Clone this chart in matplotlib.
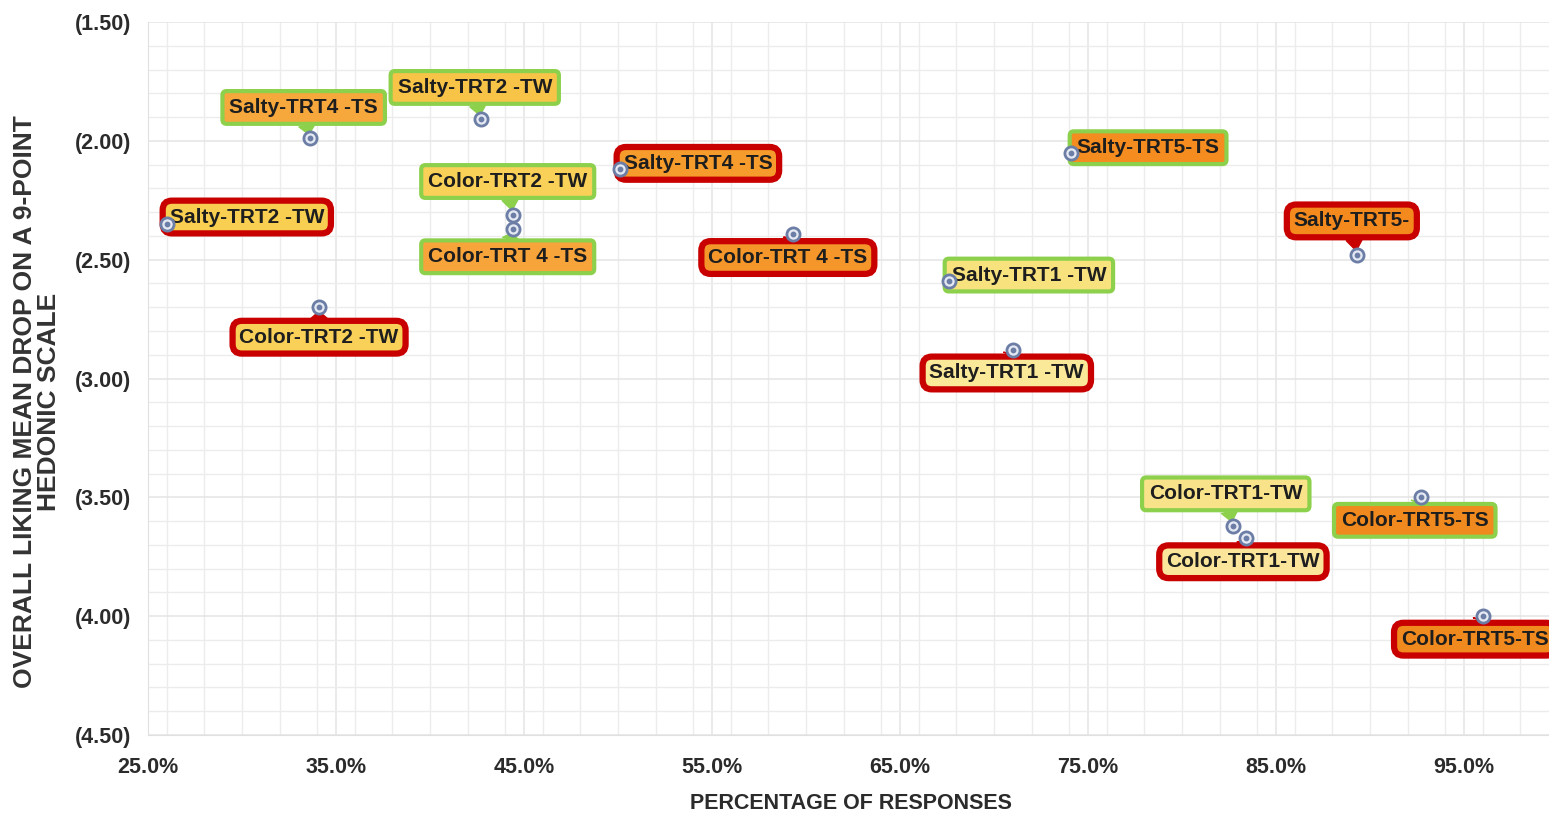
import numpy as np
import matplotlib
matplotlib.use("Agg")
import matplotlib.pyplot as plt
from matplotlib.ticker import FuncFormatter, MultipleLocator

# green-framed series
green_labels = ["Salty-TRT4 -TS", "Salty-TRT2 -TW", "Color-TRT2 -TW", "Color-TRT 4 -TS",
                "Salty-TRT5-TS", "Salty-TRT1 -TW", "Color-TRT1-TW", "Color-TRT5-TS"]
green_x = [33.6, 42.7, 44.4, 44.4, 74.1, 67.6, 82.7, 92.7]
green_y = [-1.99, -1.91, -2.31, -2.37, -2.05, -2.59, -3.62, -3.50]

# red-framed series
red_labels = ["Salty-TRT2 -TW", "Salty-TRT4 -TS", "Color-TRT 4 -TS", "Color-TRT2 -TW",
              "Salty-TRT5-", "Salty-TRT1 -TW", "Color-TRT1-TW", "Color-TRT5-TS"]
red_x = [26.0, 50.1, 59.3, 34.1, 89.3, 71.0, 83.4, 96.0]
red_y = [-2.35, -2.12, -2.39, -2.70, -2.48, -2.88, -3.67, -4.00]

# label box placement (pixel offsets from the point) and fills
green_off = [(-6, -31), (-6, -32), (-5, -33), (-5, 28), (77, -5), (80, -6), (-7, -32), (-6, 23)]
red_off = [(80, -7), (78, -6), (-5, 24), (0, 30), (-5, -34), (-6, 23), (-3, 24), (-8, 23)]
green_fill = ["#f6a83c", "#f8c448", "#f9d158", "#f7a43a", "#f48c20", "#f8e27e", "#f9e38a", "#f08a1e"]
red_fill = ["#f8cf50", "#f59c2c", "#f4962a", "#f9d158", "#f48a1e", "#fbe99a", "#fae59a", "#f08a1e"]

FONT = ["Liberation Sans", "DejaVu Sans"]
plt.rcParams["font.family"] = FONT
W, H = 1549, 821

fig = plt.figure(figsize=(W / 100, H / 100), dpi=100)
ax = fig.add_axes([148 / W, 1 - 735 / H, (1558 - 148) / W, (735 - 22) / H])

ax.set_xlim(25, 100)
ax.set_ylim(-4.5, -1.5)
ax.xaxis.set_minor_locator(MultipleLocator(2))
ax.yaxis.set_major_locator(MultipleLocator(0.5))
ax.yaxis.set_minor_locator(MultipleLocator(0.1))
ax.set_xticks(np.arange(25, 100, 10))
ax.xaxis.set_major_formatter(FuncFormatter(lambda v, p: f"{v:.1f}%"))
ax.yaxis.set_major_formatter(FuncFormatter(lambda v, p: f"({abs(v):.2f})"))

ax.grid(which="major", color="#e4e4e4", lw=1.1)
ax.grid(which="minor", color="#ececec", lw=1.0)
ax.set_axisbelow(True)
for s in ax.spines.values():
    s.set_visible(False)
ax.spines["left"].set_visible(True)
ax.spines["left"].set_color("#e0e0e0")
ax.spines["bottom"].set_visible(True)
ax.spines["bottom"].set_color("#e0e0e0")
ax.tick_params(which="both", length=0)
ax.tick_params(axis="x", pad=16, labelsize=15.5, colors="#2b2b2b")
ax.tick_params(axis="y", pad=12, labelsize=15.5, colors="#2b2b2b")
for t in ax.get_xticklabels() + ax.get_yticklabels():
    t.set_fontweight("bold")


def draw_series(xs, ys, labels, offs, fills, edge, lw, rad):
    for x, y, lab, (dx, dy), fc in zip(xs, ys, labels, offs, fills):
        ax.annotate(lab, (x, y), xytext=(dx * 0.72, -dy * 0.72), textcoords="offset points",
                    ha="center", va="center", fontsize=15, fontweight="bold",
                    color="#1e1e1e", zorder=4,
                    bbox=dict(boxstyle=f"round,pad=0.33,rounding_size={rad}", fc=fc, ec=edge, lw=lw),
                    arrowprops=dict(arrowstyle="wedge,tail_width=0.8,shrink_factor=0.5",
                                    fc=edge, ec=edge, lw=1, shrinkA=0, shrinkB=3))
    ax.scatter(xs, ys, s=90, facecolor="#e4e9f3", edgecolor="#6c7ea6", lw=2, zorder=5)
    ax.scatter(xs, ys, s=10, color="#6c7ea6", zorder=6)


draw_series(green_x, green_y, green_labels, green_off, green_fill, "#8cd04c", 3, 0.2)
draw_series(red_x, red_y, red_labels, red_off, red_fill, "#c80000", 4.5, 0.45)

fig.text(37 / W, 1 - 402 / H, "OVERALL LIKING MEAN DROP ON A 9-POINT\nHEDONIC SCALE",
         rotation=90, ha="center", va="center", ma="center", fontsize=19,
         fontweight="bold", color="#333333", linespacing=1.0)
fig.text(851 / W, 1 - 803 / H, "PERCENTAGE OF RESPONSES", ha="center", va="center",
         fontsize=15.5, fontweight="bold", color="#2b2b2b")

fig.savefig("out.png", dpi=100)
